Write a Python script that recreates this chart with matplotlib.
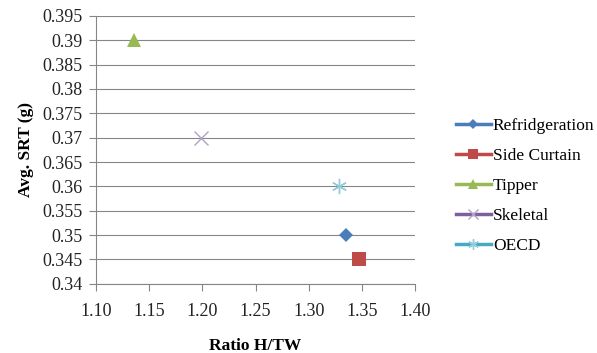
import matplotlib
matplotlib.use("Agg")
import matplotlib.pyplot as plt
from matplotlib.lines import Line2D

plt.rcParams['font.family'] = ['Liberation Serif', 'DejaVu Serif']

# series data
names = ["Refridgeration", "Side Curtain", "Tipper", "Skeletal", "OECD"]
ratio_htw = [1.335, 1.347, 1.136, 1.199, 1.329]
avg_srt = [0.350, 0.345, 0.390, 0.370, 0.360]

x_ticks = [1.10, 1.15, 1.20, 1.25, 1.30, 1.35, 1.40]
y_ticks = [0.34, 0.345, 0.35, 0.355, 0.36, 0.365, 0.37, 0.375, 0.38, 0.385, 0.39, 0.395]
y_tick_labels = ["0.34", "0.345", "0.35", "0.355", "0.36", "0.365", "0.37",
                 "0.375", "0.38", "0.385", "0.39", "0.395"]

# excel-ish styling
markers = ['D', 's', '^', 'x', (6, 2, 0)]
sizes = [7, 10, 10, 10, 11]
marker_colors = ['#4A7EBB', '#BE4B48', '#98B954', '#B3A2C7', '#93CDDD']
line_colors = ['#4A7EBB', '#BE4B48', '#98B954', '#7D60A0', '#46AAC5']

fig = plt.figure(figsize=(5.97, 3.53), dpi=100)
ax = fig.add_axes([0.161, 0.196, 0.534, 0.759])

for i in range(len(names)):
    if markers[i] in ('x', (6, 2, 0)):
        ax.plot(ratio_htw[i], avg_srt[i], linestyle='none', marker=markers[i],
                markersize=sizes[i], color=marker_colors[i], markeredgewidth=1.0)
    else:
        ax.plot(ratio_htw[i], avg_srt[i], linestyle='none', marker=markers[i],
                markersize=sizes[i], color=marker_colors[i], markeredgewidth=0)

ax.set_xlim(1.10, 1.40)
ax.set_ylim(0.34, 0.395)
ax.set_xticks(x_ticks)
ax.set_xticklabels([f"{v:.2f}" for v in x_ticks])
ax.set_yticks(y_ticks)
ax.set_yticklabels(y_tick_labels)
ax.tick_params(axis='both', labelsize=13, colors='#868686', labelcolor='#222222',
               length=5, width=0.8)
ax.tick_params(axis='x', pad=9)
ax.tick_params(axis='y', pad=5)
ax.grid(axis='y', color='#868686', linewidth=0.8)
ax.set_axisbelow(True)
for s in ['top', 'right']:
    ax.spines[s].set_visible(False)
for s in ['left', 'bottom']:
    ax.spines[s].set_color('#868686')
    ax.spines[s].set_linewidth(0.8)

ax.set_xlabel("Ratio H/TW", fontsize=12.5, fontweight='bold', labelpad=13)
ax.set_ylabel("Avg. SRT (g)", fontsize=12.5, fontweight='bold', labelpad=6)

handles = []
for i in range(len(names)):
    ew = 1.0 if markers[i] in ('x', (6, 2, 0)) else 0
    handles.append(Line2D([0], [0], color=line_colors[i], linewidth=2.5,
                          marker=markers[i], markersize=sizes[i] * 0.7,
                          markerfacecolor=marker_colors[i],
                          markeredgecolor=marker_colors[i], markeredgewidth=ew))
fig.legend(handles=handles, labels=names, loc='center left',
           bbox_to_anchor=(0.737, 0.473), frameon=False, fontsize=12.5,
           handlelength=2.05, handletextpad=0.1, labelspacing=0.8)

fig.savefig("out.png", dpi=100)
